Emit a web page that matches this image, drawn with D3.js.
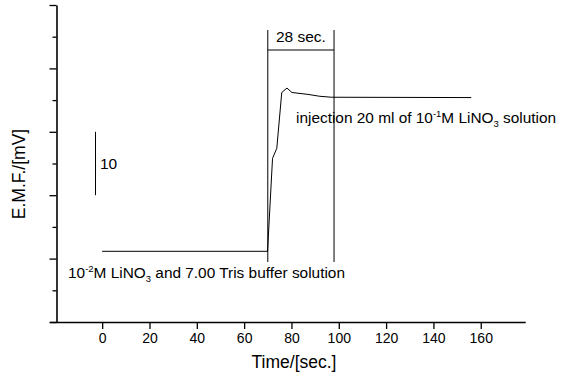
<!DOCTYPE html>
<html>
<head>
<meta charset="utf-8">
<script src="https://cdn.jsdelivr.net/npm/d3@7"></script>
<style>
  body { margin: 0; background: #fff; }
  svg { display: block; font-family: Arial, "Liberation Sans", sans-serif; }
</style>
</head>
<body>
<svg id="chart" width="566" height="378"></svg>
<script>
// measured trace, time in sec, EMF in mV (relative)
const times = [0, 69.9, 72.0, 73.8, 75.9, 78.1, 80.2, 87, 92, 97, 156]
const emf   = [11.15, 11.15, 25.8, 27.4, 36.2, 36.9, 36.2, 35.9, 35.6, 35.45, 35.4]
const xTicks = [0, 20, 40, 60, 80, 100, 120, 140, 160]
const bracketTimes = [70, 98]
const bracketLabel = '28 sec.'
const scaleBar = [30, 20]   // 10 mV bar

const svg = d3.select('#chart')
const x = d3.scaleLinear().domain([-19.3, 179]).range([56.5, 525.7])
const y = d3.scaleLinear().domain([0, 50]).range([322, 5])

// x axis
const xAxis = svg.append('g')
  .attr('transform', 'translate(0,322)')
  .call(d3.axisBottom(x).tickValues(xTicks).tickSize(7).tickPadding(4).tickSizeOuter(0))
xAxis.select('.domain').attr('d', `M50,0.5H${x.range()[1]}`).attr('stroke-width', 1.6)
xAxis.selectAll('.tick line').attr('stroke-width', 1.3)
xAxis.selectAll('text').attr('font-size', 14).attr('fill', '#000').attr('font-family', null)

// y axis, major + minor unlabeled ticks
const yAxis = svg.append('g')
  .attr('transform', 'translate(56.5,0)')
  .call(d3.axisLeft(y).tickValues(d3.range(0, 51, 10)).tickSize(7).tickFormat('').tickSizeOuter(0))
yAxis.select('.domain').attr('stroke-width', 1.6)
yAxis.selectAll('.tick line').attr('stroke-width', 1.3)
svg.append('g')
  .attr('transform', 'translate(56.5,0)')
  .call(d3.axisLeft(y).tickValues(d3.range(5, 50, 10)).tickSize(4).tickFormat('').tickSizeOuter(0))
  .call(g => g.select('.domain').remove())
  .selectAll('.tick line').attr('stroke-width', 1.3)

// axis titles
svg.append('text').attr('x', 294).attr('y', 368).attr('text-anchor', 'middle')
  .attr('font-size', 17.5).text('Time/[sec.]')
svg.append('text').attr('transform', 'translate(25,174) rotate(-90)').attr('text-anchor', 'middle')
  .attr('font-size', 17.5).text('E.M.F./[mV]')

// trace
const pts = times.map((t, i) => [t, emf[i]])
svg.append('path').datum(pts)
  .attr('fill', 'none').attr('stroke', '#000').attr('stroke-width', 1)
  .attr('d', d3.line().x(d => x(d[0])).y(d => y(d[1])))

// bracket for 28 sec
bracketTimes.forEach(t => {
  svg.append('line').attr('x1', x(t)).attr('x2', x(t)).attr('y1', 30).attr('y2', 262)
    .attr('stroke', '#000').attr('stroke-width', 1)
})
svg.append('line').attr('x1', x(bracketTimes[0])).attr('x2', x(bracketTimes[1]))
  .attr('y1', 50).attr('y2', 50).attr('stroke', '#000').attr('stroke-width', 1)
svg.append('text').attr('x', (x(bracketTimes[0]) + x(bracketTimes[1])) / 2).attr('y', 42)
  .attr('text-anchor', 'middle').attr('font-size', 15.5).text(bracketLabel)

// 10 mV scale bar
svg.append('line').attr('x1', 95.5).attr('x2', 95.5).attr('y1', y(scaleBar[0])).attr('y2', y(scaleBar[1]))
  .attr('stroke', '#000').attr('stroke-width', 1)
svg.append('text').attr('x', 100).attr('y', 168.5).attr('font-size', 15.5).text('10')

// annotations with sup/sub
function label(xp, yp, parts) {
  const t = svg.append('text').attr('x', xp).attr('y', yp).attr('font-size', 15.4)
  parts.forEach(p => {
    const s = t.append('tspan').text(p[0])
    if (p[1]) s.attr('font-size', 9.5).attr('dy', p[2])
    if (p[3] !== undefined) s.attr('dy', p[3])
  })
}
label(296, 123, [['injection 20 ml of 10'], ['-1', 'sup', -6], ['M LiNO', null, null, 6], ['3', 'sub', 4], [' solution', null, null, -4]])
label(68, 278, [['10'], ['-2', 'sup', -6], ['M LiNO', null, null, 6], ['3', 'sub', 4], [' and 7.00 Tris buffer solution', null, null, -4]])
</script>
</body>
</html>
